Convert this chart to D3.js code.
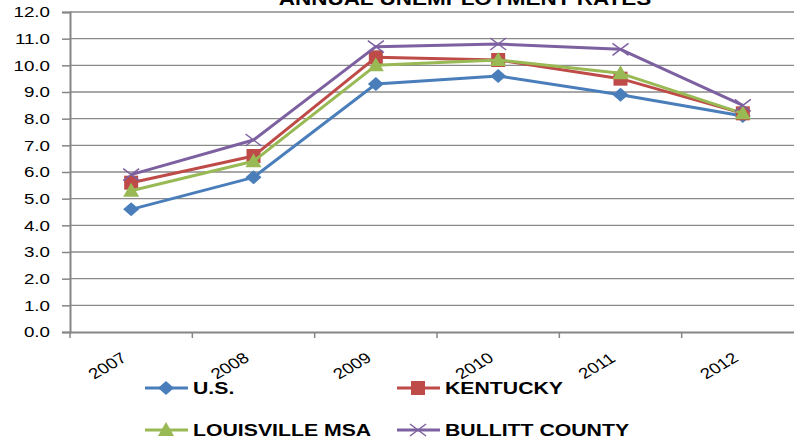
<!DOCTYPE html>
<html>
<head>
<meta charset="utf-8">
<script src="https://cdn.jsdelivr.net/npm/d3@7"></script>
<style>
  body { margin: 0; background: #fff; }
  text { font-family: "Liberation Sans", Arial, sans-serif; }
</style>
</head>
<body>
<div id="chart"></div>
<script>
var years = ["2007", "2008", "2009", "2010", "2011", "2012"];
var usRates = [4.6, 5.8, 9.3, 9.6, 8.9, 8.1];
var kentuckyRates = [5.6, 6.6, 10.3, 10.2, 9.5, 8.2];
var louisvilleRates = [5.3, 6.4, 10.0, 10.2, 9.7, 8.2];
var bullittRates = [5.9, 7.2, 10.7, 10.8, 10.6, 8.5];
var seriesNames = ["U.S.", "KENTUCKY", "LOUISVILLE MSA", "BULLITT COUNTY"];
var yTicks = [0, 1, 2, 3, 4, 5, 6, 7, 8, 9, 10, 11, 12];

var series = [
  {name: seriesNames[0], values: usRates, color: "#4a7ebb", marker: "diamond"},
  {name: seriesNames[1], values: kentuckyRates, color: "#be4b48", marker: "square"},
  {name: seriesNames[2], values: louisvilleRates, color: "#98b954", marker: "triangle"},
  {name: seriesNames[3], values: bullittRates, color: "#7d60a0", marker: "cross"}
];

var width = 794, height = 443;
var plotLeft = 70, plotTop = 12, plotBottom = 332, plotRight = 804;
var stretch = 1.25; // text in the reference is widened horizontally

var svg = d3.select("#chart").append("svg")
    .attr("width", width)
    .attr("height", height);

var x = d3.scaleBand().domain(years).range([plotLeft, plotRight]);
var y = d3.scaleLinear().domain([0, 12]).range([plotBottom, plotTop]);

// gridlines
svg.append("g").selectAll("line")
    .data(yTicks.slice(1))
    .enter().append("line")
    .attr("x1", plotLeft).attr("x2", width)
    .attr("y1", function(d) { return y(d); })
    .attr("y2", function(d) { return y(d); })
    .attr("stroke", "#8a8a8a")
    .attr("stroke-width", 1.3);

// y axis
var yAxis = svg.append("g")
    .attr("transform", "translate(" + plotLeft + ",0)")
    .call(d3.axisLeft(y).tickValues(yTicks).tickFormat(d3.format(".1f")).tickSize(8).tickPadding(0));
yAxis.select(".domain").attr("stroke", "#868686").attr("stroke-width", 2);
yAxis.selectAll(".tick line").attr("stroke", "#868686").attr("stroke-width", 1.5);
yAxis.selectAll(".tick text")
    .attr("x", null)
    .attr("transform", "translate(-20,0) scale(" + stretch + ",1)")
    .attr("font-size", 15).attr("fill", "#000")
    .style("font-family", "'Liberation Sans', Arial, sans-serif");

// x axis
var xAxis = svg.append("g")
    .attr("transform", "translate(0," + plotBottom + ")")
    .call(d3.axisBottom(x).tickSize(0).tickFormat(""));
xAxis.select(".domain").attr("stroke", "#868686").attr("stroke-width", 2);
// category boundary ticks
svg.append("g").selectAll("line")
    .data(years)
    .enter().append("line")
    .attr("x1", function(d) { return x(d); })
    .attr("x2", function(d) { return x(d); })
    .attr("y1", plotBottom).attr("y2", plotBottom + 6)
    .attr("stroke", "#868686").attr("stroke-width", 1.5);

svg.append("g").selectAll("text")
    .data(years)
    .enter().append("text")
    .attr("transform", function(d) {
      return "translate(" + (x(d) + x.bandwidth() / 2 - 20) + "," + (plotBottom + 38) + ") scale(" + stretch + ",1) rotate(-36)";
    })
    .attr("text-anchor", "middle")
    .attr("font-size", 15)
    .attr("fill", "#000")
    .text(function(d) { return d; });

// title
svg.append("text")
    .attr("transform", "translate(465,5) scale(" + stretch + ",1)")
    .attr("text-anchor", "middle")
    .attr("font-size", 18)
    .attr("font-weight", "bold")
    .text("ANNUAL UNEMPLOYMENT RATES");

function drawMarker(g, type, color) {
  if (type === "diamond") {
    g.append("path").attr("d", "M0,-7L8,0L0,7L-8,0Z").attr("fill", color);
  } else if (type === "square") {
    g.append("rect").attr("x", -7).attr("y", -7).attr("width", 14).attr("height", 14).attr("fill", color);
  } else if (type === "triangle") {
    g.append("path").attr("d", "M0,-8L8,6L-8,6Z").attr("fill", color);
  } else {
    g.append("path").attr("d", "M-8,-6L8,6M-8,6L8,-6").attr("stroke", color).attr("stroke-width", 1.5).attr("fill", "none");
  }
}

var line = d3.line()
    .x(function(d, i) { return x(years[i]) + x.bandwidth() / 2; })
    .y(function(d) { return y(d); });

series.forEach(function(s) {
  svg.append("path")
      .datum(s.values)
      .attr("d", line)
      .attr("fill", "none")
      .attr("stroke", s.color)
      .attr("stroke-width", 3)
      .attr("stroke-linejoin", "round");
  s.values.forEach(function(v, i) {
    var g = svg.append("g")
        .attr("transform", "translate(" + (x(years[i]) + x.bandwidth() / 2) + "," + y(v) + ")");
    drawMarker(g, s.marker, s.color);
  });
});

// legend
var legendPos = [[145, 388], [397, 388], [145, 430], [397, 430]];
series.forEach(function(s, i) {
  var p = legendPos[i];
  var g = svg.append("g").attr("transform", "translate(" + p[0] + "," + p[1] + ")");
  g.append("line").attr("x1", 0).attr("x2", 43).attr("y1", 0).attr("y2", 0)
      .attr("stroke", s.color).attr("stroke-width", 3);
  var m = g.append("g").attr("transform", "translate(21,0)");
  drawMarker(m, s.marker, s.color);
  g.append("text")
      .attr("transform", "translate(48,6) scale(" + stretch + ",1)")
      .attr("font-size", 17)
      .attr("font-weight", "bold")
      .text(s.name);
});
</script>
</body>
</html>
